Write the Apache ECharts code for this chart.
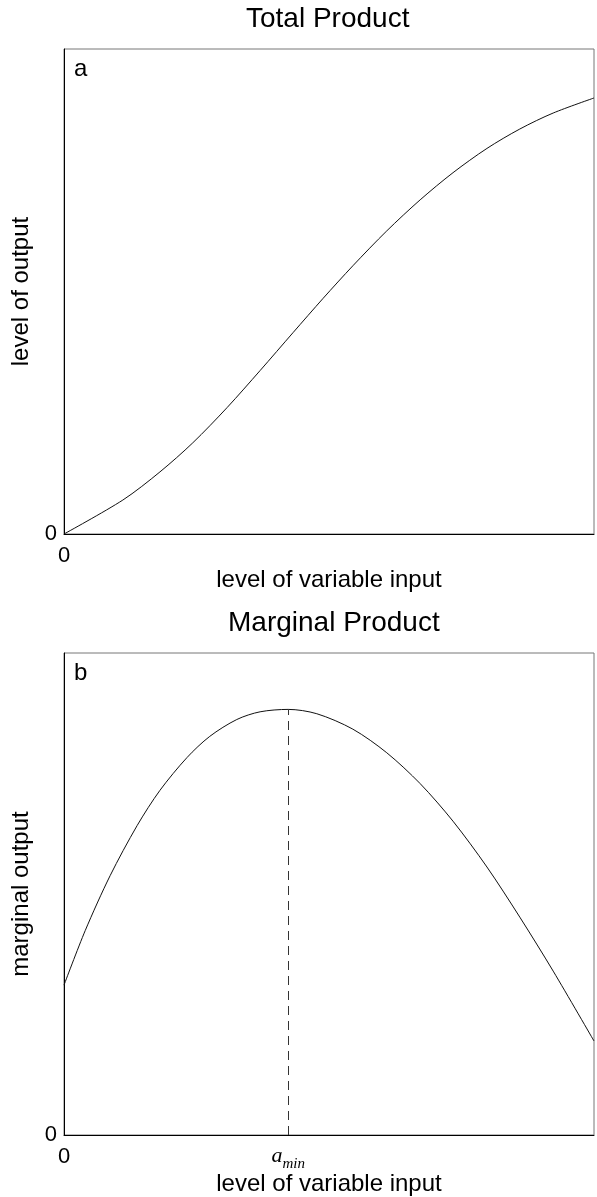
<!DOCTYPE html>
<html>
<head>
<meta charset="utf-8">
<script src="https://cdn.jsdelivr.net/npm/echarts@6/dist/echarts.min.js"></script>
<style>
html,body{margin:0;padding:0;background:#fff;}
#chart{width:597px;height:1197px;}
</style>
</head>
<body>
<div id="chart"></div>
<script>
// Total product curve (panel a)
var tpInput  = [0, 1.11, 1.81, 2.43, 3.08, 3.70, 4.32, 4.89, 5.45, 6.09, 6.72, 7.34, 7.98, 8.60, 9.23, 10];
var tpOutput = [0, 0.70, 1.28, 1.88, 2.61, 3.37, 4.15, 4.86, 5.53, 6.25, 6.89, 7.45, 7.95, 8.35, 8.68, 8.99];
// Marginal product curve (panel b)
var mpInput  = [0, 0.40, 0.87, 1.38, 1.81, 2.32, 2.75, 3.26, 3.70, 4.23, 4.77, 5.45, 6.09, 6.72, 7.34, 7.98, 8.60, 9.23, 10];
var mpOutput = [3.11, 4.24, 5.38, 6.42, 7.15, 7.83, 8.27, 8.62, 8.78, 8.83, 8.74, 8.42, 7.93, 7.29, 6.51, 5.56, 4.52, 3.40, 1.95];
var aMin = 4.23;
var aMinPeak = 8.83;
var axisMin = 0, axisMax = 10;
var tickLabels = ['0'];

function pairs(xs, ys){ return xs.map(function(x,i){ return [x, ys[i]]; }); }

var FONT = 'Liberation Sans, Arial, Helvetica, sans-serif';
var chart = echarts.init(document.getElementById('chart'), null, {renderer:'canvas'});

function xAxisCfg(idx, gap){
  return {
    type:'value', gridIndex:idx, min:axisMin, max:axisMax, interval:axisMax,
    name:'level of variable input', nameLocation:'middle', nameGap:gap,
    nameTextStyle:{fontFamily:FONT, fontSize:24, color:'#000'},
    axisLine:{show:true, lineStyle:{color:'#000', width:1}},
    axisTick:{show:false}, splitLine:{show:false},
    axisLabel:{show:true, margin:11, fontFamily:FONT, fontSize:22, color:'#000',
      formatter:function(v){ return v===axisMin ? tickLabels[0] : ''; }}
  };
}
function yAxisCfg(idx, name){
  return {
    type:'value', gridIndex:idx, min:axisMin, max:axisMax, interval:axisMax,
    name:name, nameLocation:'middle', nameGap:28, nameRotate:90,
    nameTextStyle:{fontFamily:FONT, fontSize:24, color:'#000'},
    axisLine:{show:true, lineStyle:{color:'#000', width:1}},
    axisTick:{show:false}, splitLine:{show:false},
    axisLabel:{show:true, margin:7, fontFamily:FONT, fontSize:22, color:'#000',
      formatter:function(v){ return v===axisMin ? tickLabels[0] : ''; }}
  };
}

var option = {
  animation:false,
  backgroundColor:'#fff',
  title:[
    {text:'Total Product', left:246, top:5, padding:0, textStyle:{fontFamily:FONT, fontSize:28, fontWeight:'normal', color:'#000'}},
    {text:'Marginal Product', left:228, top:609, padding:0, textStyle:{fontFamily:FONT, fontSize:28, fontWeight:'normal', color:'#000'}},
    {text:'a', left:74, top:57, padding:0, textStyle:{fontFamily:FONT, fontSize:24, fontWeight:'normal', color:'#000'}},
    {text:'b', left:74, top:661, padding:0, textStyle:{fontFamily:FONT, fontSize:24, fontWeight:'normal', color:'#000'}}
  ],
  grid:[
    {left:64, top:49, width:530, height:485, show:true, borderColor:'#777', borderWidth:1, backgroundColor:'transparent'},
    {left:64, top:653, width:530, height:486, show:true, borderColor:'#777', borderWidth:1, backgroundColor:'transparent'}
  ],
  xAxis:[ xAxisCfg(0, 33), xAxisCfg(1, 37) ],
  yAxis:[ yAxisCfg(0, 'level of output'), yAxisCfg(1, 'marginal output') ],
  series:[
    {type:'line', xAxisIndex:0, yAxisIndex:0, data:pairs(tpInput, tpOutput), smooth:0.3,
     showSymbol:false, lineStyle:{color:'#111', width:1}},
    {type:'line', xAxisIndex:1, yAxisIndex:1, data:pairs(mpInput, mpOutput), smooth:0.3,
     showSymbol:false, lineStyle:{color:'#111', width:1},
     markLine:{silent:true, symbol:['none','none'],
       lineStyle:{color:'#333', type:[9,6], width:1},
       label:{show:true, position:'start', distance:5, formatter:'{a|a}{s|min}',
         rich:{
           a:{fontFamily:'Liberation Serif, Times New Roman, serif', fontStyle:'italic', fontSize:22, color:'#000'},
           s:{fontFamily:'Liberation Serif, Times New Roman, serif', fontStyle:'italic', fontSize:15, color:'#000', padding:[17,0,0,0]}
         }},
       data:[[{coord:[aMin, axisMin]}, {coord:[aMin, aMinPeak]}]]
     }}
  ]
};
chart.setOption(option);
</script>
</body>
</html>
